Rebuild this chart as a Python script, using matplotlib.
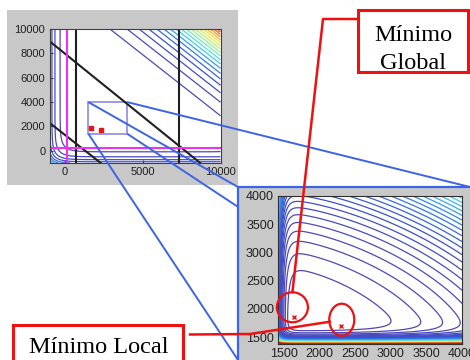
import numpy as np
import matplotlib
matplotlib.use('Agg')
import matplotlib.pyplot as plt
from matplotlib.colors import LinearSegmentedColormap, Normalize
from matplotlib.patches import Rectangle, Ellipse

plt.rcParams['font.family'] = ['Liberation Sans', 'DejaVu Sans']

W, H = 470, 360

# ---- values ----
# full view
full_xlim = [-1000, 10000]
full_ylim = [-1000, 10000]
full_xticks = [0, 5000, 10000]
full_yticks = [0, 2000, 4000, 6000, 8000, 10000]

# zoomed view
zoom_xlim = [1420, 4000]
zoom_ylim = [1376, 4000]
zoom_xticks = [1500, 2000, 2500, 3000, 3500, 4000]
zoom_yticks = [1500, 2000, 2500, 3000, 3500, 4000]

# zoom window drawn on the full view
zoom_box_x = [1500, 4000]
zoom_box_y = [1400, 4000]

# constraints (black) and bounds (magenta)
vert_limits = [700, 7300]
diag_upper_x = [-1000, 8700]
diag_upper_y = [9000, -1000]
diag_lower_x = [-1000, 2300]
diag_lower_y = [2300, -1000]
bound_x = 100
bound_y = 250

# minima found
global_min = (1650, 1850)
local_min = (2300, 1700)

# cost surface, full view: diagonal growth + barriers at the low bounds
full_shift, full_scale, full_power = 8635, 4250, 3
full_bar_x = (-320, 476)
full_bar_y = (-80, 590)
full_levels = np.arange(1, 20, 1.0)
full_vmax = 19.5

# cost surface, zoomed view: bowed arcs round (1500, 1500) + barriers
zoom_centre = (1500, 1500)
zoom_stretch, zoom_norm_p, zoom_power = 1.35, 1.5, 2.75
zoom_bar_x = (20.0, 1420, 55)
zoom_bar_y = (70.0, 1376, 64)
zoom_levels = np.arange(1.8, 75, 1.4)
zoom_vmax = 70


def cost_full(X, Y):
    q = np.clip((X + Y - full_shift) / full_scale, 0, None) ** full_power
    px = np.exp(-(X - full_bar_x[0]) / full_bar_x[1])
    py = np.exp(-(Y - full_bar_y[0]) / full_bar_y[1])
    return q + px + py


def cost_zoom(X, Y):
    dx = np.abs(X - zoom_centre[0]) / zoom_stretch
    dy = np.abs(Y - zoom_centre[1])
    r = (dx ** zoom_norm_p + dy ** zoom_norm_p) ** (1 / zoom_norm_p) / 1000
    px = zoom_bar_x[0] * np.exp(-(X - zoom_bar_x[1]) / zoom_bar_x[2])
    py = zoom_bar_y[0] * np.exp(-(Y - zoom_bar_y[1]) / zoom_bar_y[2])
    return r ** zoom_power + px + py


cmap = LinearSegmentedColormap.from_list('cost', [
    (0.0, '#5646ad'), (0.2, '#3d4fd0'), (0.32, '#2f86ec'), (0.42, '#3cd6f2'),
    (0.55, '#90f0a0'), (0.7, '#f2f03a'), (0.85, '#f5802a'), (1.0, '#d0101a')])

gray = '#c8c8c8'
blue = '#3c64e6'
red = '#ee1111'

fig = plt.figure(figsize=(W / 100, H / 100), dpi=100)
fig.patch.set_facecolor('white')

# background panels
bg = fig.add_axes([0, 0, 1, 1], zorder=-5)
bg.set_xlim(0, W)
bg.set_ylim(H, 0)
bg.axis('off')
bg.add_patch(Rectangle((7, 10), 231, 175, fc=gray, ec='none'))
bg.add_patch(Rectangle((238, 187), 232, 173, fc=gray, ec='none'))

# ---- full view ----
ax1 = fig.add_axes([49.5 / W, 1 - 163 / H, 171 / W, 134 / H])
xs = np.linspace(full_xlim[0], full_xlim[1], 500)
ys = np.linspace(full_ylim[0], full_ylim[1], 500)
X, Y = np.meshgrid(xs, ys)
ax1.contour(X, Y, cost_full(X, Y), levels=full_levels, cmap=cmap,
            norm=Normalize(0, full_vmax), linewidths=0.9)
for xv in vert_limits:
    ax1.axvline(xv, color='#202020', lw=1.5)
ax1.plot(diag_upper_x, diag_upper_y, color='#202020', lw=1.5)
ax1.plot(diag_lower_x, diag_lower_y, color='#202020', lw=1.5)
ax1.axvline(bound_x, color='#ee33ee', lw=1.5)
ax1.axhline(bound_y, color='#ee33ee', lw=1.5)
ax1.add_patch(Rectangle((zoom_box_x[0], zoom_box_y[0]),
                        zoom_box_x[1] - zoom_box_x[0], zoom_box_y[1] - zoom_box_y[0],
                        fill=False, ec='#8a8ae6', lw=1.2))
ax1.plot([global_min[0], local_min[0]], [global_min[1], local_min[1]],
         's', color=red, ms=3.5)
ax1.set_xlim(full_xlim)
ax1.set_ylim(full_ylim)
ax1.set_xticks(full_xticks)
ax1.set_yticks(full_yticks)
ax1.tick_params(direction='in', length=2, labelsize=8, pad=3, colors='#202020')
for s in ax1.spines.values():
    s.set_color('#404040')
    s.set_linewidth(0.8)

# ---- zoomed view ----
ax2 = fig.add_axes([278 / W, 1 - 344 / H, 184 / W, 148 / H])
xs2 = np.linspace(zoom_xlim[0], zoom_xlim[1], 500)
ys2 = np.linspace(zoom_ylim[0], zoom_ylim[1], 500)
X2, Y2 = np.meshgrid(xs2, ys2)
ax2.contour(X2, Y2, cost_zoom(X2, Y2), levels=zoom_levels, cmap=cmap,
            norm=Normalize(0, zoom_vmax), linewidths=0.9)
ax2.plot([global_min[0], local_min[0]], [global_min[1], local_min[1]],
         'x', color=red, ms=3.5, mew=1)
ax2.set_xlim(zoom_xlim)
ax2.set_ylim(zoom_ylim)
ax2.set_xticks(zoom_xticks)
ax2.set_yticks(zoom_yticks)
ax2.tick_params(direction='in', length=2, labelsize=9, pad=3, colors='#202020')
for s in ax2.spines.values():
    s.set_color('#303030')
    s.set_linewidth(0.8)

# ---- overlay: zoom lines and annotations ----
fg = fig.add_axes([0, 0, 1, 1], zorder=10)
fg.set_xlim(0, W)
fg.set_ylim(H, 0)
fg.axis('off')
fg.patch.set_alpha(0)


def to_px(ax, x, y):
    dx, dy = ax.transData.transform((x, y))
    return dx, H - dy


panel_l, panel_t = 238, 187
corners = [((zoom_box_x[0], zoom_box_y[1]), (panel_l, panel_t)),
           ((zoom_box_x[1], zoom_box_y[1]), (W, panel_t)),
           ((zoom_box_x[0], zoom_box_y[0]), (panel_l, H)),
           ((zoom_box_x[1], zoom_box_y[0]), (W, H))]
for (cx, cy), (tx, ty) in corners:
    sx, sy = to_px(ax1, cx, cy)
    if tx > panel_l and ty > panel_t:
        # hidden behind the zoom panel: stop at its left edge
        t = (panel_l - sx) / (tx - sx)
        tx, ty = panel_l, sy + t * (ty - sy)
    fg.plot([sx, tx], [sy, ty], color=blue, lw=1.4, solid_capstyle='butt')
fg.plot([panel_l, W], [panel_t, panel_t], color=blue, lw=1.6)
fg.plot([panel_l, panel_l], [panel_t, H], color=blue, lw=1.6)

# circles round the minima
gx, gy = to_px(ax2, *global_min)
lx, ly = to_px(ax2, *local_min)
g_c = (gx - 2, gy - 10)
l_c = (lx + 1, ly - 6)
fg.add_patch(Ellipse(g_c, 31, 30, fill=False, ec=red, lw=1.6))
fg.add_patch(Ellipse(l_c, 25, 32, fill=False, ec=red, lw=1.6))

# labels
fg.add_patch(Rectangle((358, 10), 110, 62, fc='white', ec=red, lw=2.2))
fg.text(413, 41, 'Mínimo', family='Liberation Serif', fontsize=17.5,
        ha='center', va='baseline', color='black')
fg.text(413, 69, 'Global', family='Liberation Serif', fontsize=17.5,
        ha='center', va='baseline', color='black')
fg.plot([356, 323, g_c[0]], [19, 19, g_c[1] - 15], color=red, lw=1.8)

fg.add_patch(Rectangle((13, 325), 170, 45, fc='white', ec=red, lw=2.2))
fg.text(98.5, 353, 'Mínimo Local', family='Liberation Serif', fontsize=17.5,
        ha='center', va='baseline', color='black')
fg.plot([190, 250, l_c[0] - 12], [334.5, 334, l_c[1] + 2], color=red, lw=1.8)

fig.savefig('out.png', dpi=100)
